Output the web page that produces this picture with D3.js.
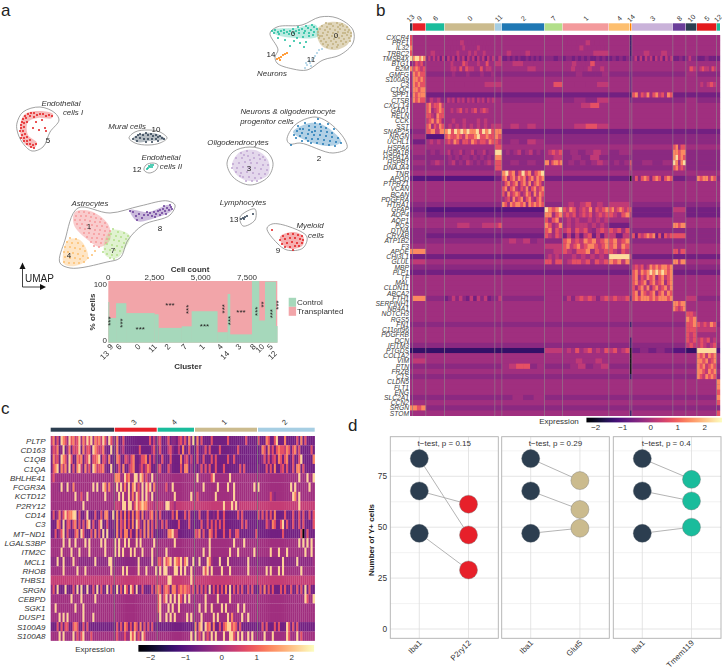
<!DOCTYPE html>
<html><head><meta charset="utf-8">
<script src="https://cdn.jsdelivr.net/npm/d3@7/dist/d3.min.js"></script>
<style>
body{margin:0;background:#fff}
svg{display:block}
text{font-family:"Liberation Sans",Arial,sans-serif}
</style></head><body><svg id="c" width="722" height="670"></svg>
<script>
/* ---------- shared colours ---------- */
const clusterOrder=["13","9","6","0","11","2","7","1","4","14","3","8","10","5","12"];
const clusterColors=["#2c3e50","#e7202a","#1abc9c","#cbbb8e","#a6cee3","#1f78b4","#b2df8a","#f39a9c","#fdbf6f","#ff7f00","#c9b2d9","#6a3d9a","#2c3e50","#e31a1c","#1abc9c"];
/* ---------- panel a: stacked composition ---------- */
const cellCounts=[40,380,540,1530,215,1260,540,1385,560,125,1190,380,325,575,90];
const controlPct=[66,40,64,48,46,24,26.5,51,17,79,13.5,100,36,99,27];
const starText=["***","","***","***","","***","***","***","***","***","***","***","**","***","***"];
const starPct=[35,0,32,23,0,61,54,27,55,36,50,51,62,47,61];
const starFlat=[0,0,0,1,0,1,0,1,0,0,1,0,0,0,0];
const cellTicks=[0,2500,5000,7500];
/* ---------- panel a: UMAP (arbitrary units) ---------- */
const outlineNeurons=[[270,33],[277,27],[302,25],[320,17],[337,18],[353,30],[353,43],[340,55],[323,60],[307,70],[293,69],[277,63],[275,57],[278,50]];
const outlineAstro=[[78,208],[110,213],[140,206],[168,201],[175,205],[170,215],[143,225],[128,240],[120,258],[107,262],[70,268],[60,263],[65,240]];
const outline5=[[17,123],[23,112],[40,107],[55,113],[59,120],[50,132],[43,147],[32,151],[22,142],[17,130]];
const outline10=[[129,138],[135,132],[148,130],[160,132],[167,138],[160,143],[148,145],[135,143]];
const outline12=[[144,170],[146,165],[153,163],[158,165],[156,170],[149,173]];
const outline3=[[227,163],[233,152],[250,147],[267,152],[273,163],[268,177],[250,185],[233,177]];
const outline2=[[287,140],[295,125],[315,117],[328,122],[345,140],[347,148],[333,153],[300,143],[290,144]];
const outline13=[[240,217],[255,209],[255,220],[243,226]];
const outline9=[[267,228],[272,224],[290,227],[307,237],[303,248],[287,250],[277,243]];
const wash0=[[318,28],[330,22],[345,24],[352,33],[348,44],[335,50],[322,46],[317,36]];
const wash1=[[75,212],[90,211],[108,224],[110,240],[100,247],[88,240],[74,225]];
const wash7=[[112,230],[130,236],[124,250],[117,258],[106,256],[104,243]];
const wash4=[[68,240],[80,240],[88,258],[75,266],[64,264]];
const wash3=[[232,165],[240,152],[255,150],[268,160],[268,175],[250,181],[238,176]];
const wash2=[[293,132],[310,123],[325,126],[341,142],[330,146],[305,140]];
const wash6=[[272,30],[295,28],[316,25],[318,36],[295,38],[275,34]];
const wash5=[[53,114],[36,111],[24,115],[20,130],[24,143],[34,148],[37,143],[28,135],[28,122],[38,118],[52,118]];
const wash8=[[130,210],[148,212],[170,205],[172,210],[155,218],[137,221]];
const wash9=[[280,237],[292,232],[303,236],[303,245],[292,249],[283,245]];
const wash10=[[133,138],[146,133],[160,135],[165,139],[150,141],[137,142]];
const pts0=[326,23,331,24,337,23,342,24,322,26,327,27,333,26,338,27,343,26,347,27,320,29,325,30,330,29,335,30,340,29,345,30,349,30,318,32,323,33,328,32,333,33,338,32,343,33,348,32,351,33,318,35,322,36,327,35,332,36,337,35,342,36,347,35,351,36,319,38,324,39,329,38,334,39,339,38,344,39,349,38,321,41,326,42,331,41,336,42,341,41,346,42,323,44,328,45,333,44,338,45,343,44,327,47,332,48,337,47,329,24,340,25,320,36,350,41,335,37,345,33];
const pts6=[272,31,275,30,278,32,281,31,284,30,287,32,290,31,293,29,296,31,299,30,302,29,305,31,308,28,311,30,314,27,317,29,274,33,279,34,284,33,289,34,294,33,299,33,304,33,309,33,314,32,306,26,298,27,312,25,303,37,297,38,309,36,313,35,294,41,300,43,306,42,285,40,290,46,304,47,278,38];
const pts11=[305,68,307,65,310,63,312,60,315,56,317,53,319,50,314,58,309,61,311,66,306,63,322,49];
const pts14=[277,59,279,58,281,57,283,55,285,54,287,53,280,60];
const pts5=[52,116,49,115,46,116,43,114,40,114,37,115,34,113,31,113,28,114,25,116,23,119,26,118,30,116,34,117,22,122,21,125,24,123,27,122,21,128,24,127,20,131,23,131,22,135,25,134,21,138,24,138,27,137,24,141,27,141,30,140,27,144,30,144,33,145,36,144,31,147,34,148,39,130,45,128,33,128,36,122,42,120,46,131];
const pts10=[133,139,136,137,138,135,140,134,143,135,146,133,148,135,151,134,153,136,156,135,158,137,160,136,162,138,164,139,140,138,144,139,148,139,152,139,156,139,146,142,152,142,158,141,137,141];
const pts12=[148,168,150,167,151,165,153,165,149,166,152,167,147,169];
const pts3=[241,153,247,151,253,153,259,155,236,158,242,158,248,156,254,158,260,159,265,160,233,164,239,163,245,162,251,163,257,163,263,165,268,165,232,168,237,168,243,167,249,168,255,168,261,169,267,170,236,172,241,173,247,172,253,173,259,174,265,174,243,177,249,177,255,178,261,178,246,181,252,181,257,181,244,155,250,160,263,157,240,176];
const pts2=[315,123,320,124,309,126,315,127,321,127,326,128,303,129,309,130,315,131,321,131,327,132,332,133,297,131,302,133,308,134,314,135,320,135,326,136,332,137,338,138,294,135,300,136,306,138,312,139,318,139,324,140,330,141,336,142,341,143,298,126,305,123,318,119,296,138,311,143,317,143,323,144,329,145,335,146,302,141,308,141,312,132,328,124,334,129,300,129,291,145];
const pts13=[241,219,243,218,245,217,244,219,247,216,253,214];
const pts9=[283,236,288,234,293,234,298,235,302,236,280,240,285,239,290,238,295,238,300,239,303,240,282,244,287,243,292,242,297,243,302,243,285,247,290,247,295,246,299,246,293,250,272,230];
const pts1=[79,212,84,212,89,213,94,214,76,216,81,216,86,216,91,217,96,218,101,219,75,220,80,220,85,220,90,221,95,222,100,222,105,223,77,224,82,224,87,225,92,225,97,226,102,226,107,227,80,228,85,229,90,229,95,230,100,230,105,231,110,231,84,233,89,233,94,234,99,234,104,235,109,235,87,237,92,238,97,238,102,239,107,239,91,242,96,242,101,243,106,243,94,246,99,247];
const pts7=[113,229,118,232,124,233,128,236,111,234,116,236,121,237,126,239,109,239,114,240,119,241,124,243,107,244,112,245,117,246,122,247,105,249,110,250,115,250,120,251,107,254,112,255,117,255,110,258,114,259,103,252];
const pts4=[70,238,76,239,67,242,72,243,78,243,83,246,65,247,70,247,75,248,80,249,85,251,64,252,68,252,73,253,78,254,83,256,65,257,70,258,75,258,80,259,88,258,64,262,69,263,74,263,79,263,84,262,92,255,95,251];
const pts8=[130,211,133,212,136,216,139,214,142,218,144,215,147,212,150,213,152,216,154,212,156,214,158,211,160,210,162,213,163,209,165,211,167,208,169,210,171,207,166,214,160,215,155,217,148,215,170,205,172,209,164,206,137,220];

/* ---------- panel b heatmap: row strings, groups per cluster ---------- */
const genesB=["CXCR4","PRF1","IL32","TRBC2","TMSB4X","BTG1","B2M","GMFG","S100A9","C3","C1QC","SPP1","CTSB","CXCL14","GAD1","RELN","CCK","SST","SNAP25","NRGN","UCHL1","HSPA6","HSPA1B","HSPA1A","HSPB1","DNAJA4","TNR","APOD","PTPRZ1","VCAN","BCAN","PDGFRA","HTRA1","GFAP","AQP4","AQP1","FOS","DTNA","CRYAB","ATP1B2","F3","APOE","CHI3L1","GLUL","MBP","PLP1","TF","MAL","CLDN11","ABCA2","FTH1","SERPINH1","NR4A1","NOTCH3","RGS5","FN1","C11orf96","PDGFRB","DCN","IFITM3","PTGDS","COL1A2","VIM","PTN","FRZB","C1S","CLDN5","FLT1","ENG","SLC2A1","CCN2","SRGN","STOM"];
const rowsB=[
"7 5 5 5 5 5 5 5 5 1 5 5 5 5 5",
"7 5 5 5555655555555 5 5 5 5555565555 5 1 5 5 5 5 5",
"8 5 5 55555565555655555 5 5 5 55556555555 5 1 5 5 5 5 5",
"7 5 5655 55556555656556555 5 565556555 5 556 5 1 5565565 5 5 5 5",
"9 899898 46464636 36463646364636463646 46 3343434334343434 4434 344343434334343 343434 2 4636364636463646 3343 4644 33433 3",
"4 57675 5 55655576555655755 6 5655 5 5565557555 5 4 5 5 5 5 5",
"8 78767 5 55665757665575665 5 55565 5 55655565565 5 4 5 5 576 56766576 5",
"5 87877 4 44544454445445 4 4 4 4454445 4 3 4 4 5 4 4",
"5 88787 5 5 5 5 5 5 5 3 5 5 5 5 5",
"5 87877 5 55556 6 5 57 5556 5 3 5 5 5 565676 5",
"5 88788 5 5 5 5 5 5 5 3 5 5 5 5 5",
"4 87888 3 3 3 3 3 3 3 1 78576857867587 3 3 3 3",
"5 87877 46564 46564656465646564656 5 4 5 4546 5 3 4 4 5 4 4",
"5 5 7867786 5 5 5 5 55675 5 5 5 5 5 5 5",
"5 5 7856787 55656756567567655 5 5 5 5 5 5 5 5 5 5 5",
"5 5 7765877 5 5 5 5 5 5 5 5 5 5 5 5",
"5 5 6786875 55655655565655 5 5 5 5 5 5 5 5 5 5 5",
"5 5 7857687 56565656565656 6 56565 5 5676 5 5 5 5 5 5 5",
"3 4 7868 8979898988979897 88 3 3 3 3 3 3 3 3 3 3",
"4 5 2 78778768778977877 87 4 4 4 4 4 4 4 4 4 4",
"4 3 56565 67687577687677687 76 45465 4 4 4 4 4 4 4 4 4",
"5 5 5 5 7 5 5 5 5 5 5 78577 5 5 5",
"4 5 4545 56455645564556455 9 45456456454 56767 454565 45 5 4 88788 4 4 4",
"4 4 4 45454554545454 8 4 56 45464 4 4 4 89787 4 4 4",
"4 5 4565 45645465454565 7 45454 88578878 45454565 4545 7 4545 98589 4 4 4",
"4 4 4 4 7 4 5 4 4 6 4 78676 4 4 4",
"5 5 5 5 5 8978579785789 5 5 5 5 5 5 5 5 5",
"3 2 2 2 3 7857868785786878 3 3 3 0 47478747874787 3 4 8788687 4",
"5 5 5 5 5 5786785786857875 5 5 5 5 5 5 5 5 5",
"5 5 5 5 5 7857865768578678 5 5 5 5 5 5 5 5 5",
"5 5 5 5 5 7586787568758687 5 5 5 5 5 5 5 5 5",
"5 5 5 5 5 5675867857865786 5 5 5 5 5 5 5 5 5",
"4 4 4 4 4 8758788785878787 4 56567565 6 5 4 4 4 4 4",
"3 3 2 2 2 2 98789 76875676857678 78678767 7 3 6 3 3 3",
"4 4 3 3 3 3 88578 67675676756767 76578 6 3 5 3 3 3",
"5 5 5 5 5 5 75785 56565565656 5 5 5 5 5 5 5",
"5 5 5 5656 67 5 87568 56566656565 3 5 5 88788 5 5 5",
"4 4 4 4 4 4 78576 67576754676 76757 4 4 4 4 4 4",
"4 4 3 3 3 3 76576 36363673636 636 4 73767878373767 7 4 4 4",
"4 4 4 4 4 565645 4 78676878678 78678 4 4 4 4 4 4",
"5 5 5 5 5 5 6 7867867887678 78687 5 5 5 5 5 5",
"8 8 5 5 5 5 56 7657785767 76576 5 5 77577 5 5 5",
"3 3 3 3 3 3 56565 5565656565 9 6 3 3 3 3 3",
"5 6 5 5 5 5 77577 5677675767 87868 4 5 88688 5 5 5",
"4 4 4 4 4 4 4 4 4 4 67675687878878 4 4 4 4",
"3 3 3 3 3 3 3 3 3 2 78687898989878 3 3 3 3",
"5 5 5 5 5 5 5 5 5 5 78576878578678 5 5 5 5",
"5 5 5 5 5 5 5 5 5 5 78678578678578 5 5 5 5",
"5 5 5 5 5 5 5 5 5 5 75786857867868 5 5 5 5",
"5 5 5 5 5 5 5 5 5 5 78587678578687 5 5 5 5",
"5 8 4 34646436364634 46 4 5 46467676467 67667 3 78788878788878 5 6 4 4",
"5 5 5 5 5 5 5 5 5 5 5 88788 5 5 5",
"5 5 5 5 5 5 5 5 5 5 5 87678 5 5 5",
"5 5 5 5 5 5 5 5 5 5 5 5 776 5 5",
"5 5 5 5 5 5 5 5 5 5 5 5 878 5 5",
"4 4 4 4 4 4 4 4 4 1 4 4 778 767687 4",
"5 5 5 5 5 5 5 5 5 5 5 5 777 6 5",
"5 5 5 5 5 5 5 5 5 5 5 5 767 5 5",
"5 5 5 5 5 5 5 5 5 1 5 5 767 676756 5",
"4 4 4 4 4 4 4 4 4 1 4 4 676 676567 4",
"1 1 1 1 1 1 6 56575675657 67567 0 34343 2 1 9 2",
"5 5 5 5 5 5 5 5 5 0 5 5 5 8786878 5",
"5 6 5 5 5 5 5 5565565 5 0 5 5 5 8878678 5",
"4 4 4 4 4 567745 4 456456 4 0 4 4 4 8786787 4",
"5 5 5 5 5 5 5 5 5 0 5 5 5 8876878 5",
"4 4 4 4 4 4 4 4 4 1 4 4 4 8768787 4",
"5 5 5 5 5 5 5 5 5 5 5 5 5 5 8",
"5 5 5 5 5 5 5 5 5 5 5 5 5 5 8",
"5 5 5 5 5 5 5 5 5 5 5 5 5 5 7",
"4 4 4 4 4 4545 4 4 4 4 4 4 4 4 8",
"5 5 5 5 5 5 5 5 5 5 5 5 5 5 7",
"8 878 4 4 4 4 4 4 4 4 4 4 4 4 4",
"5 5 5 5 5 5 5 5 5 1 5 5 5 5 7"];
const levelValuesB=[-2.4,-1.5,-1.05,-0.7,-0.4,-0.15,0.25,0.75,1.4,2.3];
/* ---------- panel c heatmap ---------- */
const genesC=["PLTP","CD163","C1QB","C1QA","BHLHE41","FCGR3A","KCTD12","P2RY12","CD14","C3","MT\u2212ND1","LGALS3BP","ITM2C","MCL1","RHOB","THBS1","SRGN","CEBPD","SGK1","DUSP1","S100A9","S100A8"];
const clustersC=["0","3","4","1","2"];
const colorsC=["#2c3e50","#e7202a","#1abc9c","#cbbb8e","#a6cee3"];
const edgesC=[[50.7,114],[114.7,156.7],[157.7,194],[195,257],[258,314.7]];
const rowsC=[
"68473987597867958697958786974975 483373333333333337363 673347344367473849 3837333373333333733333333733333 7333873379333833333738373333",
"47683493583767938577398766843393 483463333333733333573 473336743363833733 3733473733337333333337333333333 3387384737877687378473333373",
"38673987497338783679377893763833 387337647833477837363 337333733338367363 3733733373733333733733333333333 3347373673873783373379333338",
"37893868493738963857398677843393 347383367833574687333 673337533337388353 4347373733733373333333737333333 4333737383367373373883733333",
"57555555555555555555555555555555 8885597855995985755955 555555555555555555 5955555579555555595555555555555 5555555555555555555595559559",
"55554954954855555555595945985855 5959585948957595979485 555574595555555555 5555955555595555955955555555595 9555555555555555959555555955",
"55555555555595575595555555595555 5595955958597595965945 555555559555555595 5755555555955555555955555555555 5555557545555555598595555555",
"55555555555555559555555555555555 6665995995797898866656 666599665666666666 6666666666666696669695666666666 6666666666666666666696666666",
"37358479788993733593337337388339 3837383738387383647837 373343373833373733 3373337334373373333337373333333 7373737383333733373373733737",
"33387393773783737389373379337334 3837583738397538383737 437373333373333733 3337337373737373333333373733333 3333753873379373373373733337",
"33735793743378397333738373939333 3837388373383738383733 333438896633333333 7683733873733373373377333333337 3333333333337333333337037333",
"55555595595595555959555559595555 9595595955595955555595 555555559555555555 5555555955555555555955559555555 5555555555555555555595959595",
"55555955559555955559555555595555 9595955595955595555955 555595555555555555 5555955955555555595559555555595 5555559555955595555555595595",
"44494494445955444444449444444994 4444444444449444444944 775978959879589449 4494449854449444944444444494444 4444444444449444444944444445",
"55555595555559555955555555555595 5555959555559555955559 595995559959595595 5555979595555955595555555595555 5555959555959555555559555555",
"66666666666666666666666666666666 6666666666666666666666 666669966666666696 6666666666666666666666666666666 6666666666666666666666666666",
"47393339333739393393373937339373 3937397397393373333737 873787388578787757 3737373937373738393737373373733 3738373733373733733737393733",
"55555555559555595555559555555555 5555555555555555555555 795795959597595955 5555595555595555595555555555555 5555555555555555555555597559",
"55955555555595559555555555555555 5555555555555555555555 795559595595555555 5595595595555959555559559555555 5555555555555555555555555555",
"55559595955555559555595555555555 5555555555555555555555 595595959555559595 5559555559595555958555595595555 5555555555555555555555555555",
"33373737733787337373333333333333 3737387373873837373733 333333333333333333 8389397838337378997873733333333 3373733373733397373733333333",
"55559595555957579555755555555555 5755575597957597555555 555555555555555595 9575957595955595599759595595955 5559555955555597555957555555"];
const levelValuesC=[-2.4,-1.5,-1.05,-0.7,-0.4,-0.15,0.3,0.75,1.35,2.2];
const colorBarTicks=[-2,-1,0,1,2];
/* ---------- panel d ---------- */
const markersD=["P2ry12","Glut5","Tmem119"];
const pValues=["0.15","0.29","0.4"];
const iba1=[[83.7,67.8,47],[83.7,67.8,47],[83.7,67.8,47]];
const partner=[[46.2,61.3,29],[72.9,58.7,49.5],[73.5,62.9,50]];
const colorsD=["#e7202a","#cbbb8e","#1abc9c"];
const panelEdges=[[390.3,498.3],[501.7,609.3],[613.3,721]];
const yMajor=[0,25,50,75];
const yMinor=[12.5,37.5,62.5,87.5];

const svg=d3.select("#c");
const ink="#333";
const magma=d3.scaleSequential(d3.interpolateMagma).domain([-2.42,2.67]);
const closed=d3.line().curve(d3.curveCatmullRomClosed.alpha(0.6));

/* panel letters */
[["a",1,16],["b",376,16],["c",1,414],["d",348,431]].forEach(l=>svg.append("text").attr("x",l[1]).attr("y",l[2]).attr("font-size",17).attr("fill","#222").text(l[0]));

/* ---- UMAP ---- */
const ux=d3.scaleLinear([0,370],[0,370]), uy=d3.scaleLinear([0,300],[0,300]);
const toPx=a=>a.map(p=>[ux(p[0]),uy(p[1])]);
const gU=svg.append("g").style("filter","blur(0.25px)");
[[wash0,"#cbbb8e",.6],[wash6,"#1abc9c",.3],[wash1,"#f39a9c",.5],[wash7,"#b2df8a",.4],[wash4,"#fdbf6f",.4],[wash3,"#c9b2d9",.5],[wash2,"#1f78b4",.35],[wash5,"#e31a1c",.3],[wash8,"#6a3d9a",.35],[wash9,"#e31a1c",.35],[wash10,"#2c3e50",.35]].forEach(w=>
  gU.append("path").attr("d",closed(toPx(w[0]))).attr("fill",w[1]).attr("opacity",w[2]));
[outlineNeurons,outlineAstro,outline5,outline10,outline12,outline3,outline2,outline13,outline9].forEach(o=>
  gU.append("path").attr("d",closed(toPx(o))).attr("fill","none").attr("stroke","#8a8a8a").attr("stroke-width",.8));
[[pts0,"#c2b07f"],[pts6,"#1abc9c"],[pts11,"#a6cee3"],[pts14,"#ff7f00"],[pts5,"#e31a1c"],[pts10,"#2c3e50"],[pts12,"#1abc9c"],[pts3,"#bfa4d2"],[pts2,"#1f78b4"],[pts13,"#2c3e50"],[pts9,"#e31a1c"],[pts1,"#f79a9c"],[pts7,"#b2df8a"],[pts4,"#fdbf6f"],[pts8,"#6a3d9a"]].forEach(s=>{
  const ps=d3.pairs(s[0]).filter((_,i)=>i%2==0);
  gU.append("g").attr("fill",s[1]).selectAll("circle").data(ps).join("circle").attr("cx",d=>ux(d[0])).attr("cy",d=>uy(d[1])).attr("r",1);
});
const umapNums=[["0",336,35],["6",293,33],["11",311,59],["14",271,54],["5",48,140],["10",156,129],["12",137,169],["3",249,168],["2",319,158],["13",234,219],["9",278,250],["1",89,226],["7",113,250],["4",69,255],["8",160,228]];
svg.selectAll(".n").data(umapNums).join("text").attr("x",d=>ux(d[1])).attr("y",d=>uy(d[2])+3).attr("text-anchor","middle").attr("font-size",8).attr("fill","#222").text(d=>d[0]);
const umapLabels=[["Neurons",272,73],["Endothelial",61,103],["cells I",73,112],["Mural cells",127,126],["Endothelial",161,157],["cells II",171,166],["Neurons & oligodendrocyte",288,111],["progenitor cells",267,121],["Oligodendrocytes",238,142],["Astrocytes",90,203],["Lymphocytes",243,202],["Myeloid",310,225],["cells",316,235]];
svg.selectAll(".l").data(umapLabels).join("text").attr("x",d=>ux(d[1])).attr("y",d=>uy(d[2])+2.8).attr("text-anchor","middle").attr("font-size",7.9).attr("font-style","italic").attr("fill","#333").text(d=>d[0]);
/* UMAP arrows */
const ga=svg.append("g").attr("stroke","#111").attr("stroke-width",.8);
ga.append("line").attr("x1",22.5).attr("x2",22.5).attr("y1",287).attr("y2",268);
ga.append("line").attr("x1",22.5).attr("x2",42).attr("y1",287).attr("y2",287);
svg.append("path").attr("d","M22.5,262.5l-3,6.5h6z").attr("fill","#111");
svg.append("path").attr("d","M46,287l-6,-3v6z").attr("fill","#111");
svg.append("text").attr("x",25).attr("y",282).attr("font-size",10).attr("fill","#222").text("UMAP");

/* ---- composition ---- */
const cum=d3.cumsum(cellCounts), total=cum[cum.length-1];
const starts=cellCounts.map((c,i)=>cum[i]-c);
const xA=d3.scaleLinear([0,total],[108.3,277.3]), yA=d3.scaleLinear([0,100],[342.7,281]);
const gA=svg.append("g");
gA.append("rect").attr("x",xA(0)).attr("y",yA(100)).attr("width",xA(total)-xA(0)).attr("height",yA(0)-yA(100)).attr("fill","#f2a5a9");
gA.selectAll(".g").data(cellCounts).join("rect").attr("x",(d,i)=>xA(starts[i])).attr("width",d=>xA(d)-xA(0)+.3).attr("y",(d,i)=>yA(controlPct[i])).attr("height",(d,i)=>yA(0)-yA(controlPct[i])).attr("fill","#a6d8bb");
cellCounts.forEach((c,i)=>{ if(!starText[i])return;
  const mx=xA(starts[i]+c/2), my=yA(starPct[i]);
  gA.append("text").attr("transform",`translate(${mx},${starFlat[i]?my+3:my}) rotate(${starFlat[i]?0:-90})`).attr("text-anchor","middle").attr("font-size",8).attr("dy",starFlat[i]?0:".55em").attr("fill","#222").text(starText[i]);
});
cellTicks.forEach(t=>gA.append("text").attr("x",xA(t)).attr("y",280).attr("text-anchor","middle").attr("font-size",8).attr("fill",ink).text(d3.format(",")(t)));
gA.append("text").attr("x",190).attr("y",272).attr("text-anchor","middle").attr("font-size",8).attr("font-weight","bold").attr("fill",ink).text("Cell count");
[[100],[0]].forEach(d=>gA.append("text").attr("x",107).attr("y",yA(d[0])+(d[0]?6:0.5)).attr("text-anchor","end").attr("font-size",8).attr("fill",ink).text(d[0]));
gA.append("text").attr("transform","translate(95,312) rotate(-90)").attr("text-anchor","middle").attr("font-size",8).attr("font-weight","bold").attr("fill",ink).text("% of cells");
const lowered=new Set(["13","14","12"]);
clusterOrder.forEach((c,i)=>{const mx=xA(starts[i]+cellCounts[i]/2)+(c=="10"?2:c=="5"?2:0);
  gA.append("text").attr("transform",`translate(${mx+1},${lowered.has(c)?354:347}) rotate(-45)`).attr("text-anchor","end").attr("font-size",8).attr("fill",ink).text(c);});
gA.append("text").attr("x",188).attr("y",369).attr("text-anchor","middle").attr("font-size",8).attr("font-weight","bold").attr("fill",ink).text("Cluster");
[["Control","#a6d8bb",297.8],["Transplanted","#f2a5a9",306.8]].forEach(l=>{
  gA.append("rect").attr("x",288.7).attr("y",l[2]).attr("width",7.4).attr("height",9).attr("fill",l[1]);
  gA.append("text").attr("x",297).attr("y",l[2]+7.5).attr("font-size",8).attr("fill",ink).text(l[0]);});

/* ---- heatmap b ---- */
const bandB=d3.scaleBand().domain(d3.range(genesB.length)).range([35,415.8]);
const edgesB=[[410,412.4],[412.7,425.4],[426,444.2],[444.7,494.5],[495,501.7],[502,544.2],[544.7,562.3],[562.7,608.5],[609,629.5],[630,631.4],[632,672.8],[673,685.5],[686,696.4],[697,716.3],[716.7,720]];
const heat=(g,rowStr,rowY,h,edges,levels)=>{
  rowStr.split(" ").slice(0,edges.length).forEach((grp,ci)=>{
    const b=d3.scaleBand().domain(d3.range(grp.length)).range(edges[ci]);
    g.selectAll(null).data(grp.split("")).enter().append("rect").attr("x",(d,i)=>b(i)).attr("width",b.bandwidth()+.2).attr("y",rowY).attr("height",h+.15).attr("fill",d=>magma(levels[+d]));
  });
};
const gB=svg.append("g").style("filter","blur(0.35px)");
gB.append("rect").attr("x",410).attr("y",35).attr("width",310).attr("height",380.8).attr("fill",magma(-0.15));
rowsB.forEach((r,i)=>heat(gB,r,bandB(i),bandB.bandwidth(),edgesB,levelValuesB));
edgesB.slice(1).forEach(e=>gB.append("line").attr("x1",e[0]-.2).attr("x2",e[0]-.2).attr("y1",35).attr("y2",415.8).attr("stroke","#8f8f8f").attr("stroke-width",.55));
svg.selectAll(".bb").data(edgesB).join("rect").attr("x",d=>d[0]).attr("width",d=>d[1]-d[0]).attr("y",23.3).attr("height",7.4).attr("fill",(d,i)=>clusterColors[i]);
svg.selectAll(".bl").data(edgesB).join("text").attr("transform",(d,i)=>`translate(${(d[0]+d[1])/2+(clusterOrder[i]=="13"?-1:clusterOrder[i]=="12"?-.5:0)+2},20) rotate(-45)`).attr("font-size",7).attr("fill",ink).attr("text-anchor","middle").text((d,i)=>clusterOrder[i]);
svg.selectAll(".bg").data(genesB).join("text").attr("x",409).attr("y",(d,i)=>bandB(i)+bandB.bandwidth()/2+2.4).attr("text-anchor","end").attr("font-size",6.7).attr("font-style","italic").attr("fill","#3a3a3a").text(d=>d);

/* ---- heatmap c ---- */
const bandC=d3.scaleBand().domain(d3.range(genesC.length)).range([436,640.7]);
const gC=svg.append("g").style("filter","blur(0.3px)");
rowsC.forEach((r,i)=>heat(gC,r,bandC(i),bandC.bandwidth(),[[50.7,114.3],[114.3,157.2],[157.2,194.5],[194.5,257.5],[257.5,314.7]],levelValuesC));
[114.3,157.2,194.5,257.5].forEach(e=>gC.append("line").attr("x1",e).attr("x2",e).attr("y1",436).attr("y2",640.7).attr("stroke","#7f7f7f").attr("stroke-width",.8));
svg.selectAll(".cb").data(edgesC).join("rect").attr("x",d=>d[0]).attr("width",d=>d[1]-d[0]).attr("y",427.7).attr("height",4).attr("fill",(d,i)=>colorsC[i]);
svg.selectAll(".cl").data(edgesC).join("text").attr("transform",(d,i)=>`translate(${(d[0]+d[1])/2},424) rotate(-45)`).attr("text-anchor","middle").attr("font-size",7.5).attr("fill",ink).text((d,i)=>clustersC[i]);
svg.selectAll(".cg").data(genesC).join("text").attr("x",45.5).attr("y",(d,i)=>bandC(i)+bandC.bandwidth()/2+3).attr("text-anchor","end").attr("font-size",8).attr("font-style","italic").attr("fill",ink).text(d=>d);

/* ---- colour bars ---- */
const defs=svg.append("defs");
const grad=defs.append("linearGradient").attr("id","mg");
d3.range(0,1.001,.05).forEach(t=>grad.append("stop").attr("offset",t).attr("stop-color",d3.interpolateMagma(t)));
const bar=(xs,y,h,labX,labY,tickY)=>{
  const s=d3.scaleLinear([0,2],xs);
  svg.append("rect").attr("x",s(-2)-(s(1)-s(0))*.38).attr("width",(s(1)-s(0))*5.02).attr("y",y).attr("height",h).attr("fill","url(#mg)");
  colorBarTicks.forEach(t=>svg.append("text").attr("x",s(t)).attr("y",tickY).attr("text-anchor","middle").attr("font-size",8).attr("fill",ink).text(t<0?"\u2212"+(-t):t).attr("dx",t<0?-1:0));
  svg.append("text").attr("x",labX).attr("y",labY).attr("text-anchor","middle").attr("font-size",8).attr("fill",ink).text("Expression");
};
bar([221.7,291.7],645,6.7,95,651.5,660);
bar([650.7,704.7],417.7,4.7,559,423.5,430);

/* ---- panel d ---- */
const yD=d3.scaleLinear([0,75],[629,476.3]);
const gD=svg.append("g");
markersD.forEach((m,k)=>{
  const [x0,x1]=panelEdges[k];
  const px=d3.scalePoint().domain(["Iba1",m]).range([x0+29,x0+78.2]);
  yMinor.forEach(v=>gD.append("line").attr("x1",x0).attr("x2",x1).attr("y1",yD(v)).attr("y2",yD(v)).attr("stroke","#ececec").attr("stroke-width",.7));
  yMajor.forEach(v=>gD.append("line").attr("x1",x0).attr("x2",x1).attr("y1",yD(v)).attr("y2",yD(v)).attr("stroke","#dedede").attr("stroke-width",.8));
  px.domain().forEach(c=>gD.append("line").attr("x1",px(c)).attr("x2",px(c)).attr("y1",436.7).attr("y2",638.3).attr("stroke","#dedede").attr("stroke-width",.8));
  iba1[k].forEach((v,i)=>gD.append("line").attr("x1",px("Iba1")).attr("x2",px(m)).attr("y1",yD(v)).attr("y2",yD(partner[k][i])).attr("stroke","#ababab").attr("stroke-width",.9));
  gD.selectAll(null).data(iba1[k]).enter().append("circle").attr("cx",px("Iba1")).attr("cy",d=>yD(d)).attr("r",9).attr("fill","#2c3e50").attr("stroke","#4a5560").attr("stroke-width",.4);
  gD.selectAll(null).data(partner[k]).enter().append("circle").attr("cx",px(m)).attr("cy",d=>yD(d)).attr("r",9).attr("fill",colorsD[k]).attr("stroke","#777").attr("stroke-width",.4);
  gD.append("rect").attr("x",x0).attr("y",436.7).attr("width",x1-x0).attr("height",201.6).attr("fill","none").attr("stroke","#b0b0b0").attr("stroke-width",.9);
  gD.append("text").attr("x",(x0+x1)/2-(k==2?1:0)).attr("y",446).attr("text-anchor","middle").attr("font-size",8).attr("fill",ink).text(`t\u2212test, p = ${pValues[k]}`);
  px.domain().forEach(c=>gD.append("text").attr("transform",`translate(${px(c)+3},643.5) rotate(-45)`).attr("text-anchor","end").attr("font-size",7.9).attr("fill",ink).text(c));
});
yMajor.forEach(v=>gD.append("text").attr("x",387).attr("y",yD(v)+2.8).attr("text-anchor","end").attr("font-size",8.3).attr("fill",ink).text(v));
gD.append("text").attr("transform","translate(374,540) rotate(-90)").attr("text-anchor","middle").attr("font-size",8).attr("font-weight","bold").attr("fill","#222").text("Number of Y+ cells");
</script></body></html>
